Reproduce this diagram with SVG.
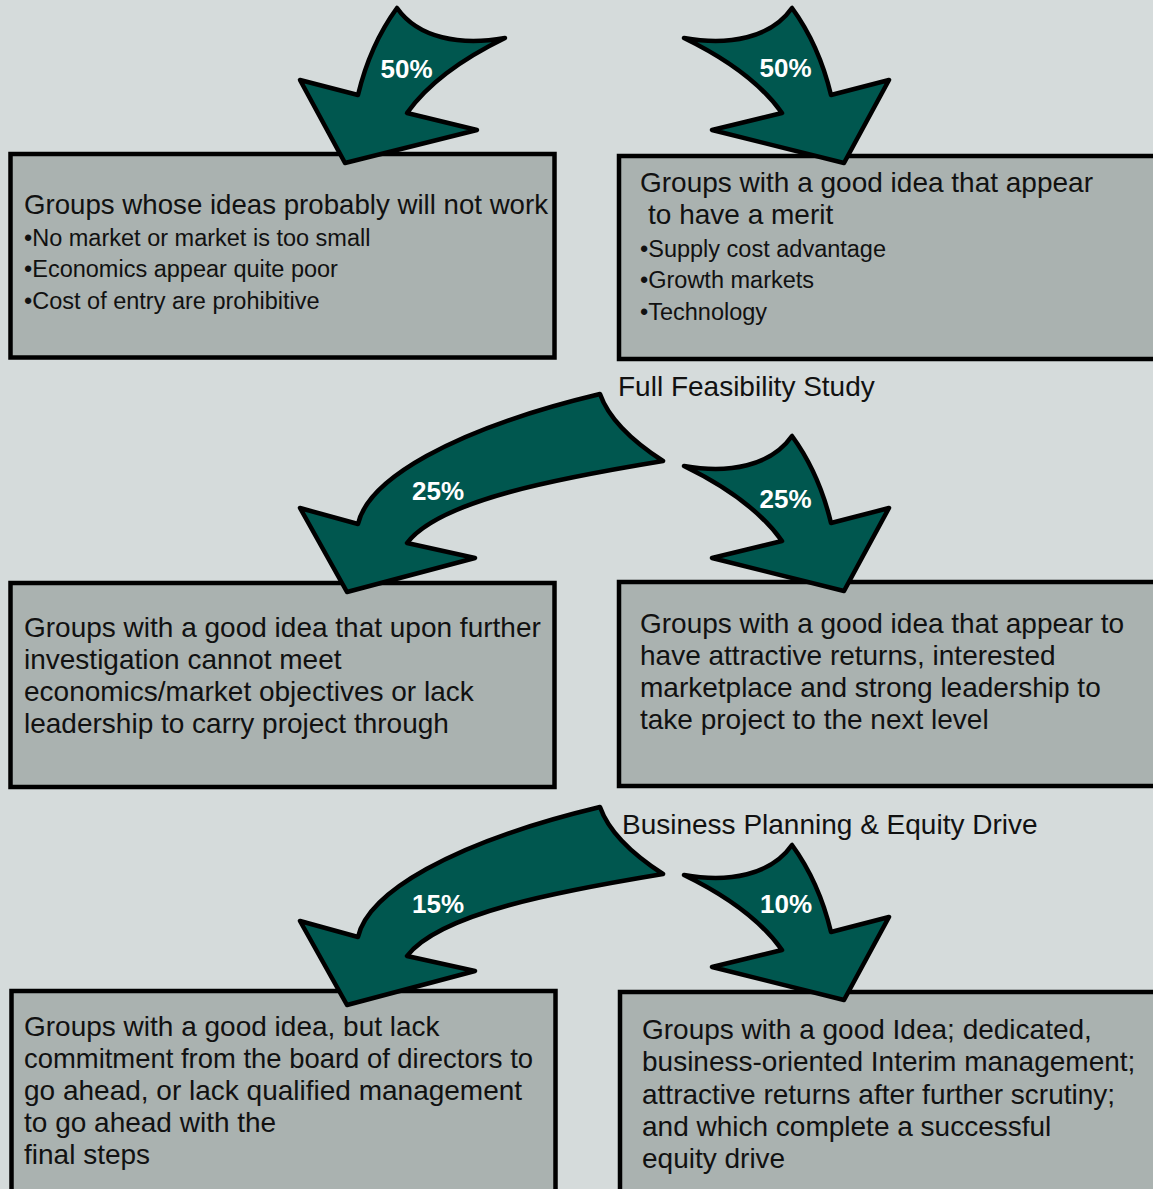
<svg xmlns="http://www.w3.org/2000/svg" xmlns:xlink="http://www.w3.org/1999/xlink" width="1153" height="1189" viewBox="0 0 1153 1189">
<style>
.box{fill:#aab2b0;stroke:#000;stroke-width:4.5}
.t{font-family:"Liberation Sans",Arial,Helvetica,sans-serif;font-size:28px;fill:#111}
.b{font-family:"Liberation Sans",Arial,Helvetica,sans-serif;font-size:23.5px;fill:#111}
.arr{fill:#00574f;stroke:#000;stroke-width:4.5;stroke-linejoin:round}
.pct{font-family:"Liberation Sans",Arial,Helvetica,sans-serif;font-size:26px;font-weight:bold;fill:#fff;text-anchor:middle}
</style>
<defs>
<path id="small" class="arr" d="M397,8 C418,38 460,46 505,38 Q437,71 407,113 L477,130 L345,163 L300,80 L358,95 Q370,45 397,8 Z"/>
<path id="big" class="arr" d="M600,394 Q612,428 663,461 C560,478 440,500 407,543 L475,558 L347,592 L300,508 L358,524 C368,480 450,430 600,394 Z"/>
</defs>
<rect width="1153" height="1189" fill="#d5dbdb"/>

<g id="node1">
<rect class="box" x="10.5" y="154" width="544" height="203.5"/>
<text class="t" x="24" y="214" textLength="524" lengthAdjust="spacingAndGlyphs">Groups whose ideas probably will not work</text>
<text class="b" x="24" y="246">•No market or market is too small</text>
<text class="b" x="24" y="277">•Economics appear quite poor</text>
<text class="b" x="24" y="308.5">•Cost of entry are prohibitive</text>
</g>
<g id="node2">
<rect class="box" x="619" y="156" width="560" height="203"/>
<text class="t" x="640" y="192">Groups with a good idea that appear</text>
<text class="t" x="648" y="223.5">to have a merit</text>
<text class="b" x="640" y="257">•Supply cost advantage</text>
<text class="b" x="640" y="288">•Growth markets</text>
<text class="b" x="640" y="320">•Technology</text>
</g>
<g id="label1"><text class="t" x="618" y="396">Full Feasibility Study</text></g>
<g id="node3">
<rect class="box" x="10.5" y="583" width="544" height="204"/>
<text class="t" x="24" y="636.7">Groups with a good idea that upon further</text>
<text class="t" x="24" y="668.5">investigation cannot meet</text>
<text class="t" x="24" y="700.5">economics/market objectives or lack</text>
<text class="t" x="24" y="732.5">leadership to carry project through</text>
</g>
<g id="node4">
<rect class="box" x="619" y="582" width="560" height="204"/>
<text class="t" x="640" y="632.7">Groups with a good idea that appear to</text>
<text class="t" x="640" y="664.7">have attractive returns, interested</text>
<text class="t" x="640" y="696.7">marketplace and strong leadership to</text>
<text class="t" x="640" y="728.7">take project to the next level</text>
</g>
<g id="label2"><text class="t" x="622" y="834">Business Planning &amp; Equity Drive</text></g>
<g id="node5">
<rect class="box" x="11.5" y="991" width="544" height="220"/>
<text class="t" x="24" y="1036">Groups with a good idea, but lack</text>
<text class="t" x="24" y="1068" textLength="509" lengthAdjust="spacingAndGlyphs">commitment from the board of directors to</text>
<text class="t" x="24" y="1100">go ahead, or lack qualified management</text>
<text class="t" x="24" y="1132">to go ahead with the</text>
<text class="t" x="24" y="1164">final steps</text>
</g>
<g id="node6">
<rect class="box" x="620" y="992" width="560" height="220"/>
<text class="t" x="642" y="1039">Groups with a good Idea; dedicated,</text>
<text class="t" x="642" y="1071">business-oriented Interim management;</text>
<text class="t" x="642" y="1103.5">attractive returns after further scrutiny;</text>
<text class="t" x="642" y="1135.5">and which complete a successful</text>
<text class="t" x="642" y="1167.5">equity drive</text>
</g>

<g id="connectors">
<use xlink:href="#small"/>
<use xlink:href="#small" transform="translate(1189,0) scale(-1,1)"/>
<use xlink:href="#big"/>
<use xlink:href="#small" transform="translate(1189,428) scale(-1,1)"/>
<use xlink:href="#big" transform="translate(0,413)"/>
<use xlink:href="#small" transform="translate(1189,837) scale(-1,1)"/>
<text class="pct" x="406.5" y="78">50%</text>
<text class="pct" x="785.5" y="77">50%</text>
<text class="pct" x="438" y="500">25%</text>
<text class="pct" x="785.5" y="508">25%</text>
<text class="pct" x="438" y="913">15%</text>
<text class="pct" x="786" y="913">10%</text>
</g>
</svg>
